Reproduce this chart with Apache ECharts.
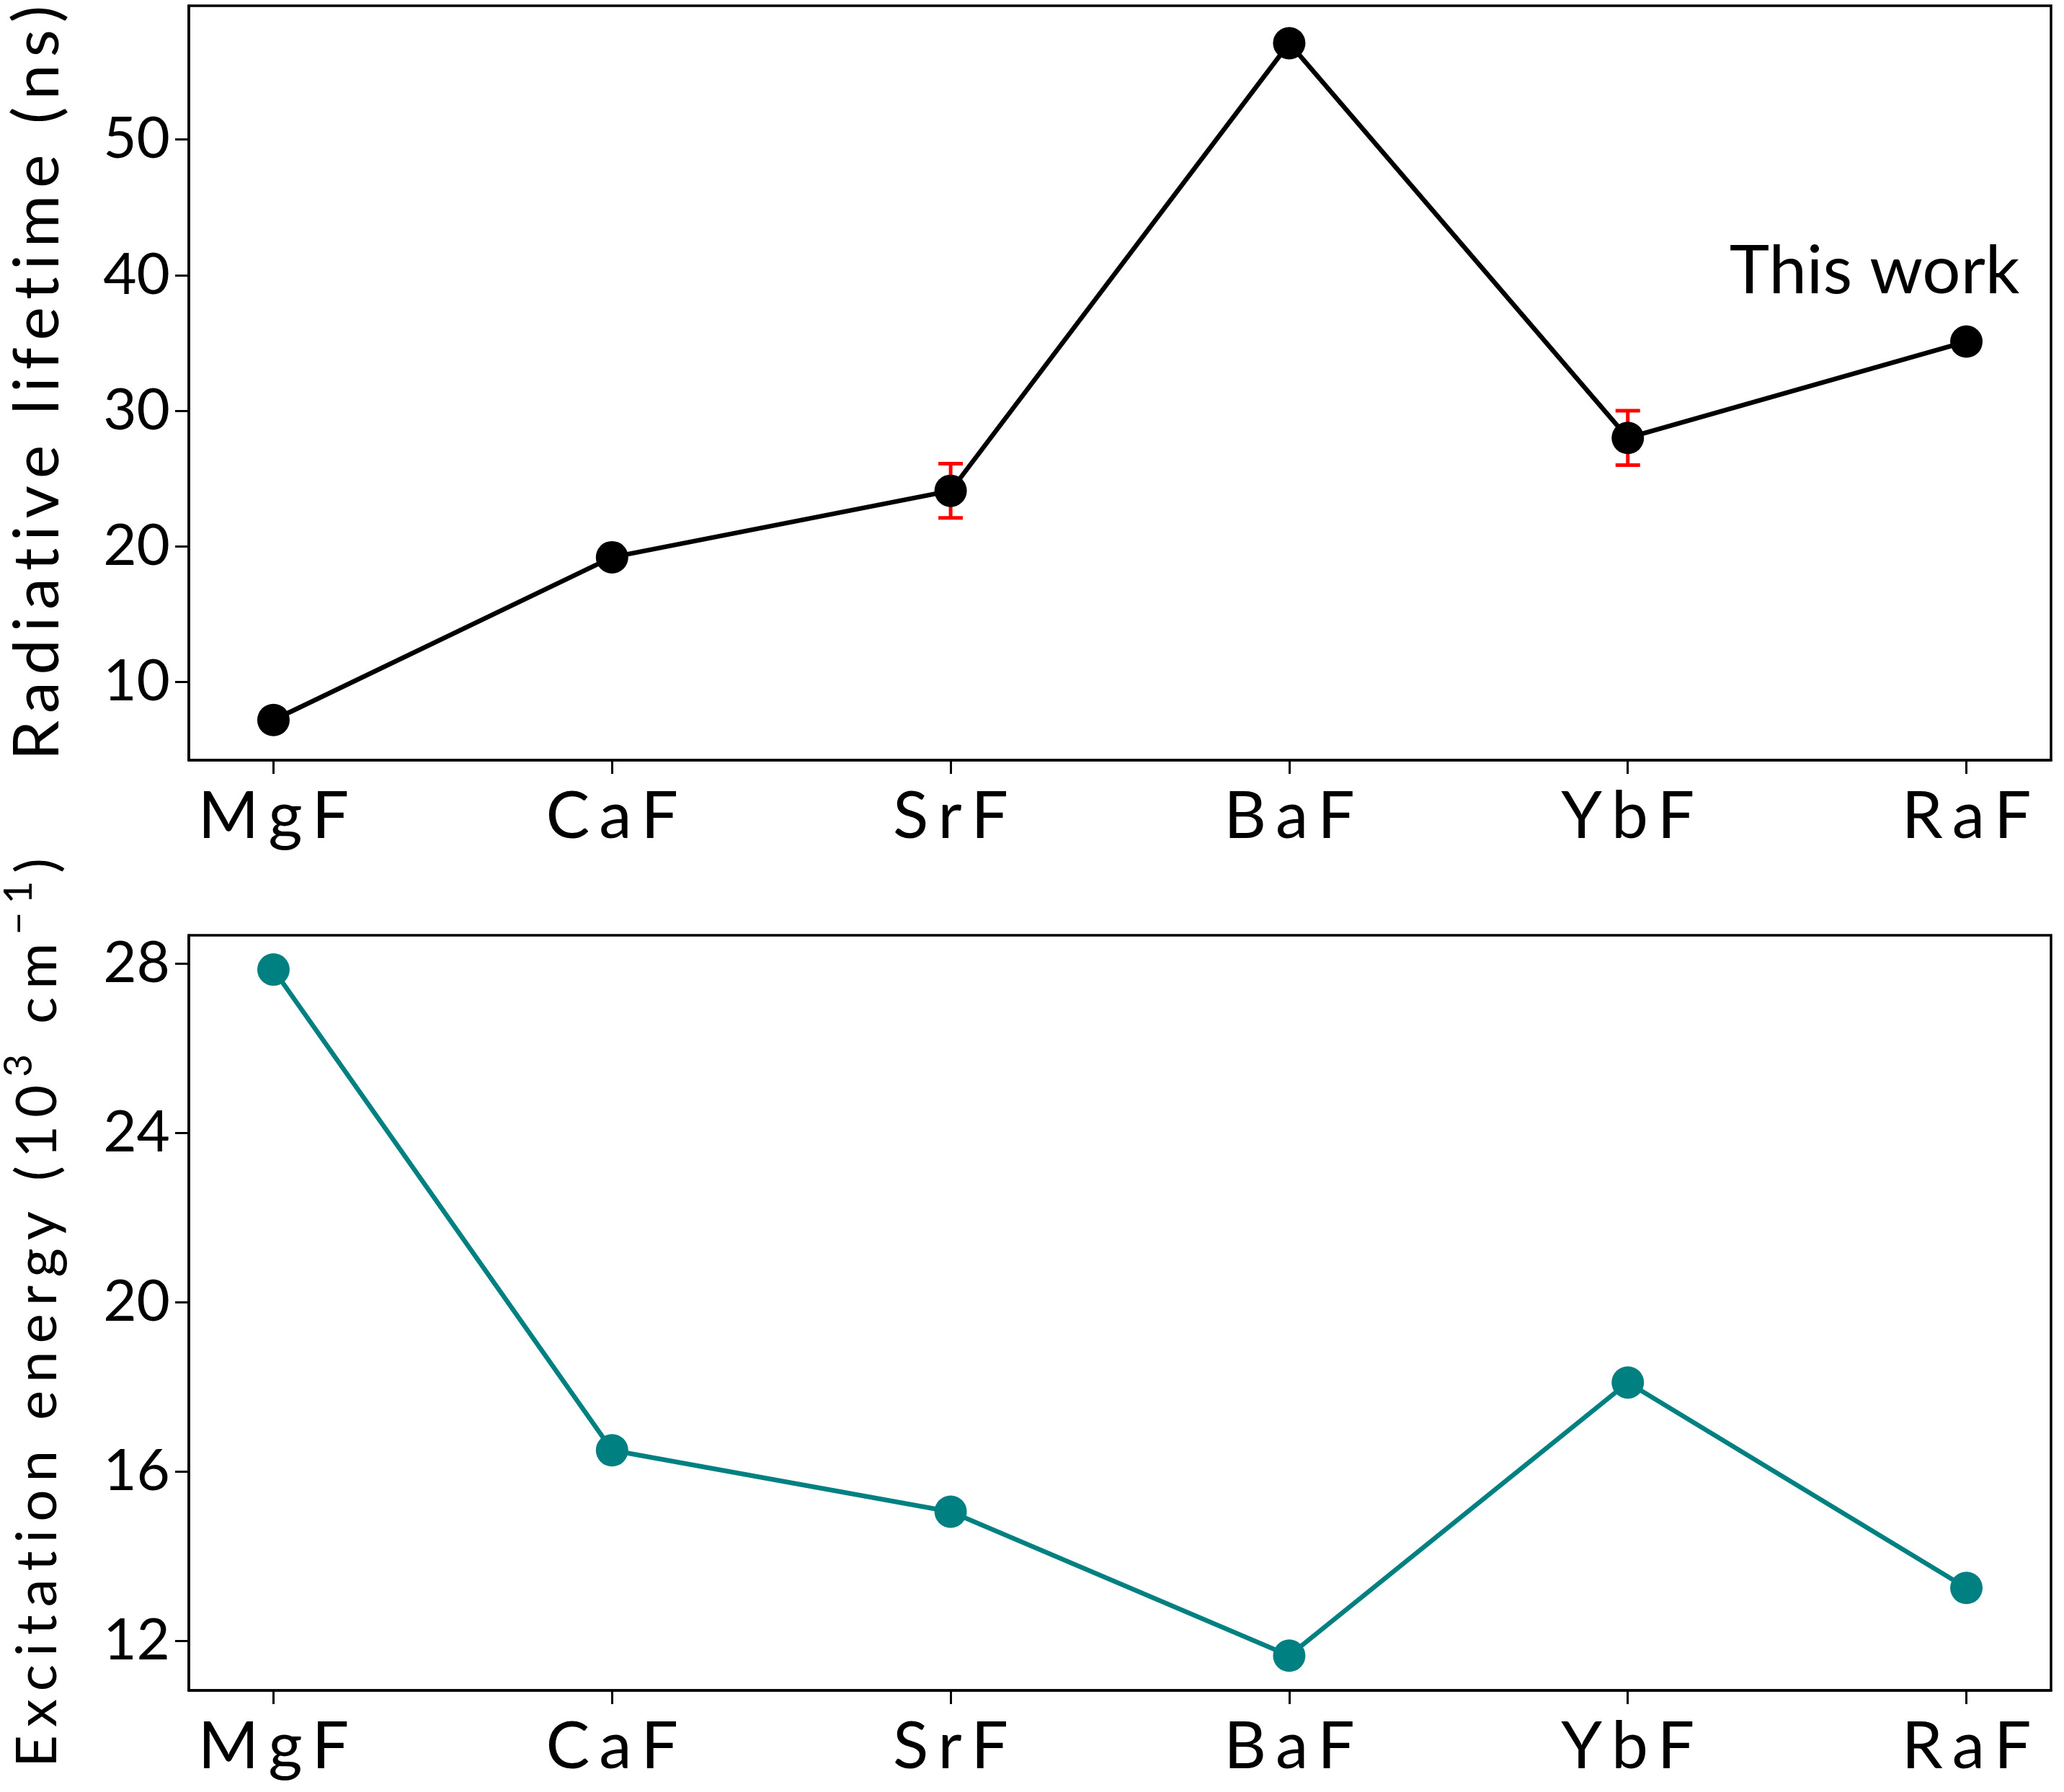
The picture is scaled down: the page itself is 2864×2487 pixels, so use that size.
<!DOCTYPE html>
<html>
<head>
<meta charset="utf-8">
<title>Radiative lifetime and excitation energy</title>
<script src="https://cdn.jsdelivr.net/npm/echarts@6/dist/echarts.min.js"></script>
<style>
  html, body { margin: 0; padding: 0; background: #fff; }
  #box { width: 2864px; height: 2487px; }
</style>
</head>
<body>
<div id="box"></div>
<script>
// 分子
var molecules = ['MgF', 'CaF', 'SrF', 'BaF', 'YbF', 'RaF'];
// 寿命 (ns)
var lifetime = [7.2, 19.2, 24.1, 57.1, 28.0, 35.1];
// 误差棒 (只有 SrF, YbF)
var lifetimeErr = [0, 0, 2, 0, 2, 0];
// 激发能 (10^3 cm^-1)
var excitation = [27.85, 16.5, 15.05, 11.65, 18.1, 13.25];
// 刻度
var xTicks = [0, 1, 2, 3, 4, 5];
var lifetimeTicks = [10, 20, 30, 40, 50];
var energyTicks = [12, 16, 20, 24, 28];

var FONT = 'Lato';

function pairs(vals) {
    return vals.map(function (v, i) { return [i, v]; });
}

// 字间距: 每个字符一个 rich 片段, 最后一个字符不留空
function spaced(str, style, lastStyle) {
    var chars = str.split('');
    return chars.map(function (ch, i) {
        var s = (i === chars.length - 1 && lastStyle) ? lastStyle : style;
        return '{' + s + '|' + ch + '}';
    }).join('');
}

function xAxisOf(gridIndex) {
    return {
        type: 'value',
        gridIndex: gridIndex,
        min: -0.25,
        max: 5.25,
        axisLine: { show: true, onZero: false, lineStyle: { color: '#000', width: 3.5 } },
        axisTick: { show: true, customValues: xTicks, length: 19, lineStyle: { color: '#000', width: 3 } },
        axisLabel: {
            customValues: xTicks,
            formatter: function (v) { return spaced(molecules[Math.round(v)], 'c', 'e'); },
            margin: 33,
            rich: {
                c: { fontFamily: FONT, fontSize: 91, color: '#000', padding: [0, 13, 0, 0] },
                e: { fontFamily: FONT, fontSize: 91, color: '#000' }
            }
        },
        splitLine: { show: false }
    };
}

function yAxisOf(gridIndex, min, max, ticks, name, nameStyle, gap) {
    return {
        type: 'value',
        gridIndex: gridIndex,
        min: min,
        max: max,
        name: name,
        nameLocation: 'middle',
        nameRotate: 90,
        nameGap: gap,
        nameTextStyle: nameStyle,
        axisLine: { show: true, onZero: false, lineStyle: { color: '#000', width: 3.5 } },
        axisTick: { show: true, customValues: ticks, length: 19, lineStyle: { color: '#000', width: 3 } },
        axisLabel: {
            customValues: ticks,
            fontFamily: FONT, fontSize: 80, color: '#000', margin: 26
        },
        splitLine: { show: false }
    };
}

var errData = [];
lifetimeErr.forEach(function (e, i) {
    if (e > 0) errData.push([i, lifetime[i] - e, lifetime[i] + e]);
});

var energyName = spaced('Excitation energy (10', 'a') + spaced('3', 's') +
    spaced(' cm', 'a') + spaced('\u22121', 's') + '{z|)}';

var myChart = echarts.init(document.getElementById('box'));
var option = {
    animation: false,
    backgroundColor: '#fff',
    grid: [
        { left: 262, right: 18, top: 8, height: 1047, show: true, borderColor: '#000', borderWidth: 3.5,
          containLabel: false, outerBoundsMode: 'none' },
        { left: 262, right: 18, top: 1298, height: 1048, show: true, borderColor: '#000', borderWidth: 3.5,
          containLabel: false, outerBoundsMode: 'none' }
    ],
    xAxis: [xAxisOf(0), xAxisOf(1)],
    yAxis: [
        yAxisOf(0, 4.24, 59.86, lifetimeTicks, spaced('Radiative lifetime (ns)', 'c', 'e'),
            {
                rich: {
                    c: { fontFamily: FONT, fontSize: 88, color: '#000', padding: [0, 10, 0, 0] },
                    e: { fontFamily: FONT, fontSize: 88, color: '#000' }
                }
            }, 165),
        yAxisOf(1, 10.83, 28.66, energyTicks, energyName,
            {
                rich: {
                    a: { fontFamily: FONT, fontSize: 78, color: '#000', verticalAlign: 'bottom', padding: [0, 11, 0, 0] },
                    s: { fontFamily: FONT, fontSize: 55, color: '#000', verticalAlign: 'bottom', padding: [0, 11, 38, 0] },
                    z: { fontFamily: FONT, fontSize: 78, color: '#000', verticalAlign: 'bottom' }
                }
            }, 170)
    ],
    series: [
        {
            type: 'custom',
            xAxisIndex: 0,
            yAxisIndex: 0,
            z: 1,
            data: errData,
            renderItem: function (params, api) {
                var lo = api.coord([api.value(0), api.value(1)]);
                var hi = api.coord([api.value(0), api.value(2)]);
                var cap = 17;
                var st = { stroke: '#ff0000', lineWidth: 5 };
                return {
                    type: 'group',
                    children: [
                        { type: 'line', shape: { x1: lo[0], y1: lo[1], x2: hi[0], y2: hi[1] }, style: st },
                        { type: 'line', shape: { x1: lo[0] - cap, y1: lo[1], x2: lo[0] + cap, y2: lo[1] }, style: st },
                        { type: 'line', shape: { x1: hi[0] - cap, y1: hi[1], x2: hi[0] + cap, y2: hi[1] }, style: st }
                    ]
                };
            }
        },
        {
            name: 'lifetime',
            type: 'line',
            xAxisIndex: 0,
            yAxisIndex: 0,
            z: 2,
            data: pairs(lifetime),
            symbol: 'circle',
            symbolSize: 45,
            lineStyle: { color: '#000', width: 6.5 },
            itemStyle: { color: '#000' },
            markPoint: {
                symbol: 'circle',
                symbolSize: 0,
                data: [{ coord: [4.3, 40.3] }],
                label: {
                    show: true,
                    formatter: 'This work',
                    position: 'right',
                    distance: 0,
                    fontFamily: FONT,
                    fontSize: 94,
                    color: '#000'
                }
            }
        },
        {
            name: 'excitation',
            type: 'line',
            xAxisIndex: 1,
            yAxisIndex: 1,
            data: pairs(excitation),
            symbol: 'circle',
            symbolSize: 45,
            lineStyle: { color: '#008080', width: 6.5 },
            itemStyle: { color: '#008080' }
        }
    ]
};
myChart.setOption(option);
</script>
</body>
</html>
